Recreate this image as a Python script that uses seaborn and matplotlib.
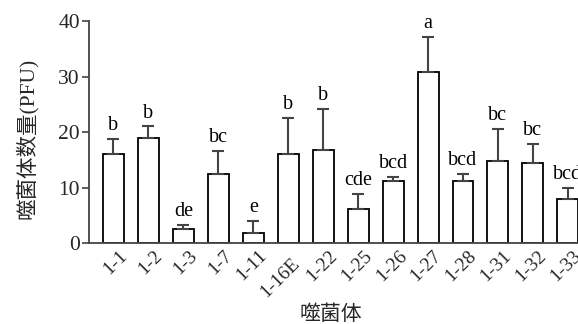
import matplotlib
matplotlib.use("Agg")
import matplotlib.pyplot as plt
import matplotlib.transforms as mtransforms
import seaborn as sns
import numpy as np
import pandas as pd

categories = ["1-1", "1-2", "1-3", "1-7", "1-11", "1-16E", "1-22", "1-25",
              "1-26", "1-27", "1-28", "1-31", "1-32", "1-33"]
means = [16.1, 18.9, 2.5, 12.5, 1.8, 16.1, 16.8, 6.1, 11.1, 30.9, 11.1, 14.8, 14.5, 7.9]
upper_err = [2.6, 2.1, 0.7, 4.1, 2.2, 6.5, 7.4, 2.7, 0.8, 6.2, 1.4, 5.8, 3.4, 2.1]
letters = ["b", "b", "de", "bc", "e", "b", "b", "cde", "bcd", "a", "bcd", "bc", "bc", "bcd"]

sns.set_theme(style="ticks")
plt.rcParams['font.family'] = ['Liberation Serif', 'Noto Sans CJK SC']

df = pd.DataFrame({"cat": categories, "val": means})

fig = plt.figure(figsize=(5.78, 3.24), dpi=100)
ax = fig.add_axes([0.154, 0.25, 0.846, 0.685])

sns.barplot(data=df, x="cat", y="val", color="white", edgecolor="black",
            linewidth=1.3, width=0.6, ax=ax, errorbar=None, saturation=1)

xs = np.arange(len(categories))
ax.errorbar(xs, means, yerr=[np.zeros(len(means)), upper_err], fmt="none",
            ecolor="#444444", elinewidth=1.5, capsize=4.5, capthick=1.5)

for x, m, e, l in zip(xs, means, upper_err, letters):
    ax.text(x, m + e + 0.7, l, ha="center", va="bottom", fontsize=14.5, color="black")

ax.set_ylim(0, 40)
ax.set_xlim(-0.7, 13.29)
ax.set_yticks([0, 10, 20, 30, 40])
ax.tick_params(axis="y", labelsize=15.5, length=5, width=1.2, color="#444444", pad=1.5)
ax.tick_params(axis="x", length=0, labelsize=14, pad=0)
for lab in ax.get_xticklabels():
    lab.set_rotation(45)
    lab.set_ha("right")
    lab.set_va("top")
    lab.set_rotation_mode("anchor")
    dx, dy = 5, -4
    if lab.get_text() == "1-16E":
        dx, dy = 3, -12
    lab.set_transform(lab.get_transform() +
                      mtransforms.ScaledTranslation(dx / 100, dy / 100, fig.dpi_scale_trans))

for s in ["top", "right"]:
    ax.spines[s].set_visible(False)
for s in ["left", "bottom"]:
    ax.spines[s].set_color("#444444")
    ax.spines[s].set_linewidth(1.3)

ax.set_xlabel("噬菌体", fontsize=15)
ax.set_ylabel("噬菌体数量(PFU)", fontsize=15.5)
ax.xaxis.set_label_coords(0.495, -0.325)
ax.xaxis.label.set_va("center")
ax.yaxis.set_label_coords(-0.127, 0.47)
ax.yaxis.label.set_va("center")

fig.savefig("out.png", dpi=100)
